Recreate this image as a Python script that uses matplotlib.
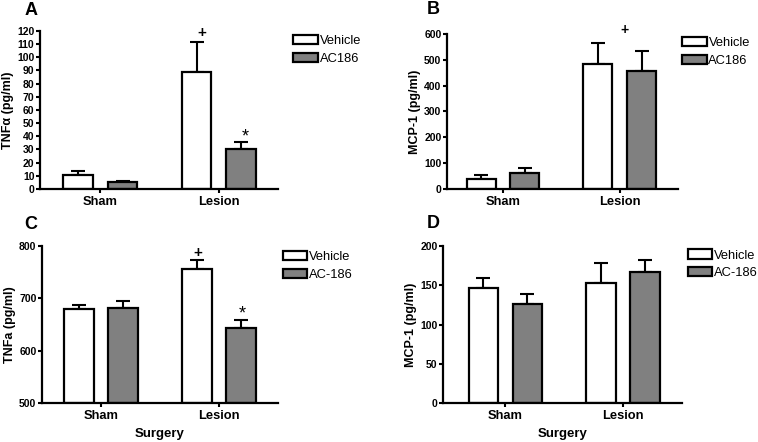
import numpy as np
import matplotlib
matplotlib.use('Agg')
from matplotlib import pyplot as plt
from matplotlib.patches import Patch

plt.rcParams['font.family'] = ['Liberation Sans', 'DejaVu Sans']

groups = ['Sham', 'Lesion']

# panel A - TNFa (pg/ml)
a_veh = [11, 89]
a_veh_err = [2.5, 23]
a_ac = [5, 30]
a_ac_err = [0.8, 5.5]

# panel B - MCP-1 (pg/ml)
b_veh = [40, 483]
b_veh_err = [15, 82]
b_ac = [60, 455]
b_ac_err = [22, 78]

# panel C - TNFa (pg/ml)
c_veh = [679, 757]
c_veh_err = [8.5, 15.5]
c_ac = [682, 644]
c_ac_err = [13, 15]

# panel D - MCP-1 (pg/ml)
d_veh = [146.5, 153]
d_veh_err = [12.5, 26]
d_ac = [126, 166.5]
d_ac_err = [13, 16]

fig = plt.figure(figsize=(7.58, 4.42), dpi=100)

W = 0.25   # bar width
OFF = 0.187

def panel(rect, veh, veh_err, ac, ac_err, ylim, yticks, ylabel, labels, xlim, leg_pos, xlabel=None):
    ax = fig.add_axes(rect)
    x = np.arange(len(groups))
    for xs, vals, errs, col in [(x - OFF, veh, veh_err, 'white'), (x + OFF, ac, ac_err, '#808080')]:
        ax.bar(xs, np.array(vals) - ylim[0], W, bottom=ylim[0], color=col, edgecolor='black', linewidth=1.6, zorder=2)
        ax.errorbar(xs, vals, yerr=[np.zeros(len(errs)), errs], fmt='none', ecolor='black',
                    elinewidth=1.5, capsize=5, capthick=1.5, zorder=1)
    ax.set_xlim(xlim)
    ax.set_ylim(ylim)
    ax.set_yticks(yticks)
    ax.set_xticks(x)
    ax.set_xticklabels(groups, fontweight='bold', fontsize=9.3)
    ax.tick_params(axis='y', labelsize=7.5, width=1.5, length=3, pad=1)
    ax.tick_params(axis='x', width=1.5, length=3, pad=2)
    for t in ax.get_yticklabels():
        t.set_fontweight('bold')
    ax.spines['top'].set_visible(False)
    ax.spines['right'].set_visible(False)
    ax.spines['left'].set_linewidth(1.6)
    ax.spines['bottom'].set_linewidth(1.6)
    ax.set_ylabel(ylabel, fontweight='bold', fontsize=9, labelpad=2)
    if xlabel:
        ax.set_xlabel(xlabel, fontweight='bold', fontsize=9.5, labelpad=4)
    handles = [Patch(facecolor='white', edgecolor='black', linewidth=1.6),
               Patch(facecolor='#808080', edgecolor='black', linewidth=1.6)]
    ax.legend(handles, labels, loc='upper left', bbox_to_anchor=leg_pos, frameon=False,
              fontsize=9.3, handlelength=1.9, handleheight=0.7, handletextpad=0.15,
              labelspacing=0.42, borderpad=0, borderaxespad=0)
    return ax

axA = panel([0.0528, 0.5724, 0.314, 0.3575], a_veh, a_veh_err, a_ac, a_ac_err,
            (0, 120), np.arange(0, 121, 10), 'TNF\u03b1 (pg/ml)', ['Vehicle', 'AC186'], (-0.51, 1.5),
            (1.063, 0.972))
axA.text(1 - OFF + 0.04, 118.5, '+', ha='center', va='center', fontsize=11, fontweight='bold', clip_on=False)
axA.text(1 + OFF + 0.04, 39.5, '*', ha='center', va='center', fontsize=13, clip_on=False)

axB = panel([0.5897, 0.5724, 0.3048, 0.3507], b_veh, b_veh_err, b_ac, b_ac_err,
            (0, 600), np.arange(0, 601, 100), 'MCP-1 (pg/ml)', ['Vehicle', 'AC186'], (-0.48, 1.5),
            (1.017, 0.98))
axB.text(1.04, 615, '+', ha='center', va='center', fontsize=10, fontweight='bold', clip_on=False)

axC = panel([0.0554, 0.0882, 0.3113, 0.3552], c_veh, c_veh_err, c_ac, c_ac_err,
            (500, 800), np.arange(500, 801, 100), 'TNFa (pg/ml)', ['Vehicle', 'AC-186'], (-0.5, 1.5),
            (1.021, 0.968), xlabel='Surgery')
axC.text(1 - OFF + 0.01, 786, '+', ha='center', va='center', fontsize=11, fontweight='bold', clip_on=False)
axC.text(1 + OFF + 0.01, 670, '*', ha='center', va='center', fontsize=13, clip_on=False)

axD = panel([0.5844, 0.0882, 0.3153, 0.3552], d_veh, d_veh_err, d_ac, d_ac_err,
            (0, 200), np.arange(0, 201, 50), 'MCP-1 (pg/ml)', ['Vehicle', 'AC-186'], (-0.53, 1.5),
            (1.025, 0.978), xlabel='Surgery')

for lbl, xx, yy in [('A', 0.032, 0.977), ('B', 0.563, 0.978), ('C', 0.032, 0.491), ('D', 0.563, 0.495)]:
    fig.text(xx, yy, lbl, fontsize=13, fontweight='bold', va='center')

fig.savefig('out.png', dpi=100)
